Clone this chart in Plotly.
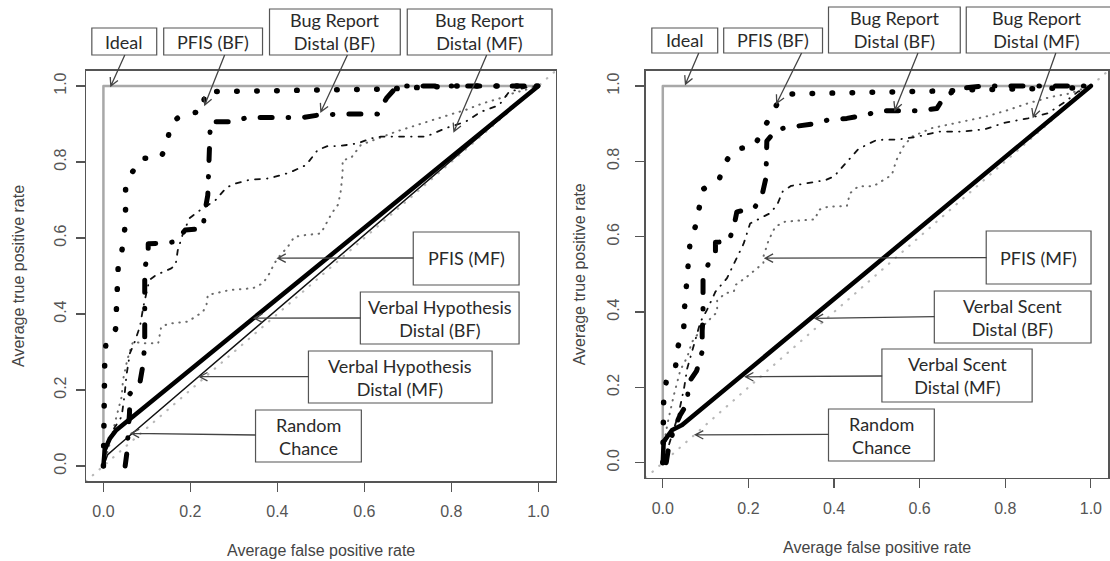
import math
import plotly.graph_objects as go

# ---------------- data ----------------
tick_vals = [0, 0.2, 0.4, 0.6, 0.8, 1.0]
tick_text = ["0.0", "0.2", "0.4", "0.6", "0.8", "1.0"]

ideal_x = [0, 0, 1]
ideal_y = [0, 1, 1]
random_x = [-0.04, 1.04]
random_y = [-0.04, 1.04]

# Left panel
L_pfis_bf_x = [0, 0, 0.003, 0.003, 0.006, 0.028, 0.03, 0.031, 0.034, 0.043, 0.049, 0.051, 0.051, 0.066,
               0.085, 0.132, 0.147, 0.155, 0.185, 0.229, 0.233, 0.65, 0.75, 0.8, 1.0]
L_pfis_bf_y = [0, 0.055, 0.165, 0.274, 0.327, 0.36, 0.415, 0.468, 0.525, 0.57, 0.623, 0.678, 0.732, 0.772,
               0.81, 0.81, 0.853, 0.902, 0.928, 0.932, 0.985, 0.992, 0.995, 1.0, 1.0]

L_br_bf_x = [0.05, 0.054, 0.06, 0.061, 0.084, 0.091, 0.095, 0.095, 0.103, 0.103, 0.126, 0.166, 0.188, 0.229,
             0.233, 0.24, 0.243, 0.246, 0.295, 0.331, 0.458, 0.497, 0.544, 0.63, 0.651, 0.676, 1.0]
L_br_bf_y = [0.0, 0.035, 0.14, 0.19, 0.22, 0.266, 0.32, 0.52, 0.56, 0.585, 0.586, 0.59, 0.621, 0.625,
             0.667, 0.713, 0.81, 0.906, 0.906, 0.917, 0.917, 0.924, 0.926, 0.926, 0.968, 1.0, 1.0]

L_br_mf_x = [0, 0.008, 0.025, 0.042, 0.049, 0.053, 0.061, 0.072, 0.084, 0.092, 0.103, 0.106, 0.122, 0.156,
             0.166, 0.171, 0.183, 0.198, 0.217, 0.258, 0.283, 0.305, 0.336, 0.382, 0.428, 0.466, 0.493,
             0.516, 0.543, 0.585, 0.615, 0.638, 0.688, 0.742, 0.787, 0.833, 0.868, 0.91, 0.933, 0.979, 1.0]
L_br_mf_y = [0, 0.05, 0.1, 0.13, 0.191, 0.239, 0.297, 0.327, 0.367, 0.42, 0.476, 0.49, 0.503, 0.52,
             0.529, 0.568, 0.612, 0.652, 0.669, 0.70, 0.733, 0.744, 0.753, 0.757, 0.772, 0.792, 0.832,
             0.842, 0.842, 0.849, 0.862, 0.867, 0.867, 0.867, 0.889, 0.906, 0.932, 0.95, 0.985, 0.998, 1.0]

L_pfis_mf_x = [0, 0.008, 0.019, 0.03, 0.042, 0.045, 0.055, 0.068, 0.091, 0.126, 0.129, 0.133, 0.152, 0.194,
               0.229, 0.237, 0.24, 0.29, 0.344, 0.367, 0.382, 0.393, 0.401, 0.424, 0.439, 0.466, 0.5,
               0.525, 0.539, 0.545, 0.55, 0.55, 0.569, 0.592, 0.673, 0.719, 0.757, 0.795, 0.833, 0.871,
               0.91, 0.94, 1.0]
L_pfis_mf_y = [0, 0.03, 0.077, 0.13, 0.182, 0.226, 0.28, 0.327, 0.323, 0.323, 0.345, 0.367, 0.375, 0.38,
               0.406, 0.424, 0.45, 0.463, 0.468, 0.481, 0.507, 0.533, 0.547, 0.577, 0.603, 0.608, 0.612,
               0.665, 0.687, 0.717, 0.77, 0.805, 0.81, 0.845, 0.88, 0.897, 0.911, 0.924, 0.937, 0.954,
               0.967, 0.98, 1.0]

L_vh_bf_x = [0, 0.003, 0.015, 0.03, 1.0]
L_vh_bf_y = [0, 0.042, 0.073, 0.095, 1.0]
L_vh_mf_x = [0, 0.01, 0.03, 1.0]
L_vh_mf_y = [0, 0.03, 0.05, 1.0]

# Right panel
R_pfis_bf_x = [0, 0, 0.002, 0.002, 0.008, 0.03, 0.036, 0.049, 0.051, 0.054, 0.057, 0.063, 0.076, 0.084,
               0.094, 0.131, 0.145, 0.169, 0.214, 0.23, 0.251, 0.268, 0.301, 0.7, 0.72, 0.96, 1.0]
R_pfis_bf_y = [0, 0.053, 0.107, 0.162, 0.215, 0.257, 0.31, 0.359, 0.414, 0.469, 0.522, 0.576, 0.627, 0.675,
               0.726, 0.75, 0.796, 0.834, 0.837, 0.88, 0.916, 0.955, 0.979, 0.988, 0.99, 0.995, 1.0]

R_br_bf_x = [0.008, 0.015, 0.03, 0.04, 0.058, 0.059, 0.079, 0.092, 0.092, 0.094, 0.094, 0.106, 0.123, 0.123,
             0.154, 0.166, 0.173, 0.214, 0.232, 0.241, 0.243, 0.266, 0.305, 0.348, 0.387, 0.43, 0.472,
             0.51, 0.555, 0.595, 0.64, 0.66, 0.70, 0.75, 1.0]
R_br_bf_y = [0.0, 0.05, 0.1, 0.125, 0.16, 0.21, 0.244, 0.295, 0.35, 0.386, 0.485, 0.527, 0.56, 0.585,
             0.587, 0.627, 0.666, 0.676, 0.711, 0.756, 0.854, 0.885, 0.892, 0.899, 0.91, 0.914, 0.923,
             0.934, 0.934, 0.934, 0.94, 0.976, 0.994, 1.0, 1.0]

R_br_mf_x = [0, 0.015, 0.037, 0.05, 0.057, 0.075, 0.088, 0.103, 0.123, 0.15, 0.168, 0.189, 0.204, 0.25,
             0.267, 0.28, 0.3, 0.348, 0.38, 0.40, 0.43, 0.457, 0.50, 0.55, 0.593, 0.645, 0.70, 0.752,
             0.8, 0.853, 0.9, 0.94, 0.97, 1.0]
R_br_mf_y = [0, 0.05, 0.13, 0.2, 0.25, 0.32, 0.374, 0.405, 0.454, 0.49, 0.534, 0.582, 0.635, 0.662,
             0.684, 0.72, 0.735, 0.743, 0.75, 0.76, 0.80, 0.833, 0.857, 0.858, 0.865, 0.879, 0.879, 0.885,
             0.903, 0.914, 0.928, 0.958, 0.985, 1.0]

R_pfis_mf_x = [0, 0.007, 0.014, 0.026, 0.041, 0.057, 0.068, 0.1, 0.127, 0.127, 0.146, 0.166, 0.17, 0.197,
               0.235, 0.235, 0.247, 0.263, 0.286, 0.356, 0.364, 0.387, 0.43, 0.437, 0.457, 0.492, 0.535,
               0.546, 0.562, 0.581, 0.628, 0.682, 0.752, 0.806, 0.853, 0.907, 0.95, 1.0]
R_pfis_mf_y = [0, 0.08, 0.12, 0.18, 0.246, 0.28, 0.32, 0.37, 0.40, 0.43, 0.45, 0.454, 0.472, 0.494,
               0.53, 0.547, 0.59, 0.627, 0.64, 0.646, 0.671, 0.68, 0.681, 0.715, 0.734, 0.734, 0.764,
               0.804, 0.839, 0.865, 0.888, 0.901, 0.918, 0.936, 0.954, 0.971, 0.98, 1.0]

R_vs_bf_x = [0, 0.002, 0.022, 0.037, 0.045, 1.0]
R_vs_bf_y = [0, 0.056, 0.087, 0.096, 0.1, 1.0]
R_vs_mf_x = [0, 0.004, 0.02, 0.045, 1.0]
R_vs_mf_y = [0, 0.05, 0.085, 0.1, 1.0]

# ---------------- geometry (pixels in the reference picture) ----------------
OFF = 0  # body margin is removed by the post script, so figure pixels == window pixels
W, H = 1110, 561
PANELS = {
    "L": dict(x0=103.6, sx=435.7, y0=466.0, sy=380.0, xa="x", ya="y"),
    "R": dict(x0=664.0, sx=429.0, y0=462.7, sy=376.7, xa="x2", ya="y2"),
}
LO, HI = -0.04, 1.04


def d2p(panel, x, y):
    p = PANELS[panel]
    return p["x0"] + p["sx"] * x, p["y0"] - p["sy"] * y


def px(X):
    return (X - OFF) / W


def py(Y):
    return 1 - (Y - OFF) / H


fig = go.Figure()


def add_line(panel, xs, ys, color, width, dash):
    p = PANELS[panel]
    fig.add_trace(go.Scatter(x=xs, y=ys, mode="lines", xaxis=p["xa"], yaxis=p["ya"],
                             line=dict(color=color, width=width, dash=dash),
                             hoverinfo="skip", showlegend=False))


# line caps are made round (like R) by the post script, so dash lengths exclude the caps
for pn, pb_x, pb_y, bb_x, bb_y, bm_x, bm_y, pm_x, pm_y, vb_x, vb_y, vm_x, vm_y in [
    ("L", L_pfis_bf_x, L_pfis_bf_y, L_br_bf_x, L_br_bf_y, L_br_mf_x, L_br_mf_y, L_pfis_mf_x, L_pfis_mf_y,
     L_vh_bf_x, L_vh_bf_y, L_vh_mf_x, L_vh_mf_y),
    ("R", R_pfis_bf_x, R_pfis_bf_y, R_br_bf_x, R_br_bf_y, R_br_mf_x, R_br_mf_y, R_pfis_mf_x, R_pfis_mf_y,
     R_vs_bf_x, R_vs_bf_y, R_vs_mf_x, R_vs_mf_y),
]:
    add_line(pn, random_x, random_y, "#b8b8b8", 2.2, "0.5px,8.5px")
    add_line(pn, ideal_x, ideal_y, "#a8a8a8", 2.5, "solid")
    add_line(pn, pm_x, pm_y, "#6a6a6a", 2, "0.5px,6.5px")
    add_line(pn, bm_x, bm_y, "#111111", 1.8, "5px,7px,0.5px,7px")
    add_line(pn, vm_x, vm_y, "#111111", 1.5, "solid")
    add_line(pn, vb_x, vb_y, "#000000", 4.5, "solid")
    add_line(pn, bb_x, bb_y, "#000000", 5, "12px,16px,0.5px,16px")
    add_line(pn, pb_x, pb_y, "#000000", 5.5, "0.5px,19.5px")

# ---------------- axes ----------------
def axis_common():
    return dict(range=[LO, HI], showgrid=False, zeroline=False, showline=True, mirror=True,
                linecolor="#555555", linewidth=1.5, ticks="outside", ticklen=9, tickwidth=1.2,
                tickcolor="#555555", tickvals=tick_vals, ticktext=tick_text,
                tickfont=dict(family="Liberation Sans, Arial, sans-serif", size=16, color="#555555"))


layout_axes = {}
for pn, xname, yname, xs_off, ys_off in [("L", "xaxis", "yaxis", 6, 3), ("R", "xaxis2", "yaxis2", 7, 10)]:
    p = PANELS[pn]
    xl, yb = d2p(pn, LO, LO)
    xr, yt = d2p(pn, HI, HI)
    xa = axis_common()
    xa.update(domain=[px(xl), min(1.0, px(xr))], anchor=p["ya"], ticklabelstandoff=xs_off)
    ya = axis_common()
    ya.update(domain=[py(yb), py(yt)], anchor=p["xa"], tickangle=-90, ticklabelstandoff=ys_off)
    layout_axes[xname] = xa
    layout_axes[yname] = ya

fig.update_layout(width=W, height=H, margin=dict(l=0, r=0, t=0, b=0), autosize=False,
                  paper_bgcolor="white", plot_bgcolor="white", showlegend=False, **layout_axes)

# ---------------- axis titles ----------------
title_font = dict(family="Liberation Sans, Arial, sans-serif", size=16, color="#444444")
annotations = []
for pn, tx_y, ty_x in [("L", 550, 18), ("R", 547, 580)]:
    cx, cy = d2p(pn, 0.5, 0.5)
    annotations.append(dict(x=px(cx), y=py(tx_y), xref="paper", yref="paper", showarrow=False,
                            text="Average false positive rate", font=title_font,
                            xanchor="center", yanchor="middle"))
    annotations.append(dict(x=px(ty_x), y=py(cy), xref="paper", yref="paper", showarrow=False,
                            text="Average true positive rate", font=title_font, textangle=-90,
                            xanchor="center", yanchor="middle"))

# ---------------- label boxes + arrows ----------------
# (panel, text, box pixels (x0,y0,x1,y1), text centre x, arrow tail pixel, arrow tip data)
labels = [
    ("L", "Ideal", (92, 28, 157, 55), None, (125, 55), (0.017, 1.0)),
    ("L", "PFIS (BF)", (164, 28, 263, 55), None, (225, 55), (0.233, 0.95)),
    ("L", "Bug Report<br>Distal (BF)", (270, 9, 401, 55), None, (348, 55), (0.5, 0.932)),
    ("L", "Bug Report<br>Distal (MF)", (408, 9, 553, 55), None, (487.5, 55), (0.806, 0.88)),
    ("L", "PFIS (MF)", (414, 232, 520, 285), None, (414, 258), (0.401, 0.547)),
    ("L", "Verbal Hypothesis<br>Distal (BF)", (361, 292, 520, 344), None, (361, 318), (0.347, 0.389)),
    ("L", "Verbal Hypothesis<br>Distal (MF)", (309, 351, 493, 403), None, (309, 376.7), (0.221, 0.235)),
    ("L", "Random<br>Chance", (256, 410, 362, 462), None, (256, 435), (0.064, 0.086)),
    ("R", "Ideal", (653, 28, 719, 53), None, (700, 53), (0.053, 1.005)),
    ("R", "PFIS (BF)", (725, 28, 824, 53), None, (803, 53), (0.266, 0.954)),
    ("R", "Bug Report<br>Distal (BF)", (830, 7, 962, 53), None, (919.6, 53), (0.542, 0.936)),
    ("R", "Bug Report<br>Distal (MF)", (968, 7, 1125, 53), 1038, (1057.7, 53), (0.865, 0.918)),
    ("R", "PFIS (MF)", (988, 231, 1093, 284), None, (988, 257.7), (0.239, 0.543)),
    ("R", "Verbal Scent<br>Distal (BF)", (936, 291, 1093, 343), None, (936, 316.7), (0.356, 0.383)),
    ("R", "Verbal Scent<br>Distal (MF)", (883.5, 349, 1034, 402), None, (883.5, 376), (0.193, 0.228)),
    ("R", "Random<br>Chance", (830, 409, 936, 461), None, (830, 434.3), (0.076, 0.074)),
]

label_font = dict(family="Lato, Noto Sans, sans-serif", size=18, color="#2a2a2a")
shapes = []
for pn, text, (bx0, by0, bx1, by1), tcx, (sx, sy), (tx, ty) in labels:
    shapes.append(dict(type="rect", xref="paper", yref="paper", x0=px(bx0), x1=px(bx1),
                       y0=py(by1), y1=py(by0), line=dict(color="#555555", width=1.2),
                       fillcolor="white", layer="above"))
    if tcx is None:
        tcx = (bx0 + bx1) / 2
    annotations.append(dict(x=px(tcx), y=py((by0 + by1) / 2), xref="paper", yref="paper",
                            showarrow=False, text=text, font=label_font,
                            xanchor="center", yanchor="middle", align="center"))
    # arrow: shaft + open V head, drawn in pixel units around the tip
    TX, TY = d2p(pn, tx, ty)
    dx, dy = sx - TX, sy - TY
    L = math.hypot(dx, dy)
    ux, uy = dx / L, dy / L
    hl, a = 9.0, math.radians(28)
    c, s = math.cos(a), math.sin(a)
    h1 = (hl * (ux * c - uy * s), hl * (ux * s + uy * c))
    h2 = (hl * (ux * c + uy * s), hl * (-ux * s + uy * c))
    path = (f"M {dx:.2f},{-dy:.2f} L 0,0 "
            f"M {h1[0]:.2f},{-h1[1]:.2f} L 0,0 L {h2[0]:.2f},{-h2[1]:.2f}")
    shapes.append(dict(type="path", xref="paper", yref="paper", xsizemode="pixel", ysizemode="pixel",
                       xanchor=px(TX), yanchor=py(TY), path=path,
                       line=dict(color="#444444", width=1.3), layer="above"))

fig.update_layout(shapes=shapes, annotations=annotations)
fig.write_html(
    "out.html",
    config={"displayModeBar": False, "staticPlot": True},
    post_script=(
        "document.body.style.margin='0';document.body.style.overflow='hidden';"
        "document.querySelectorAll('.scatterlayer path.js-line').forEach(function(p){"
        "p.style.strokeLinecap='round';p.style.strokeLinejoin='round';});"
    ),
)
